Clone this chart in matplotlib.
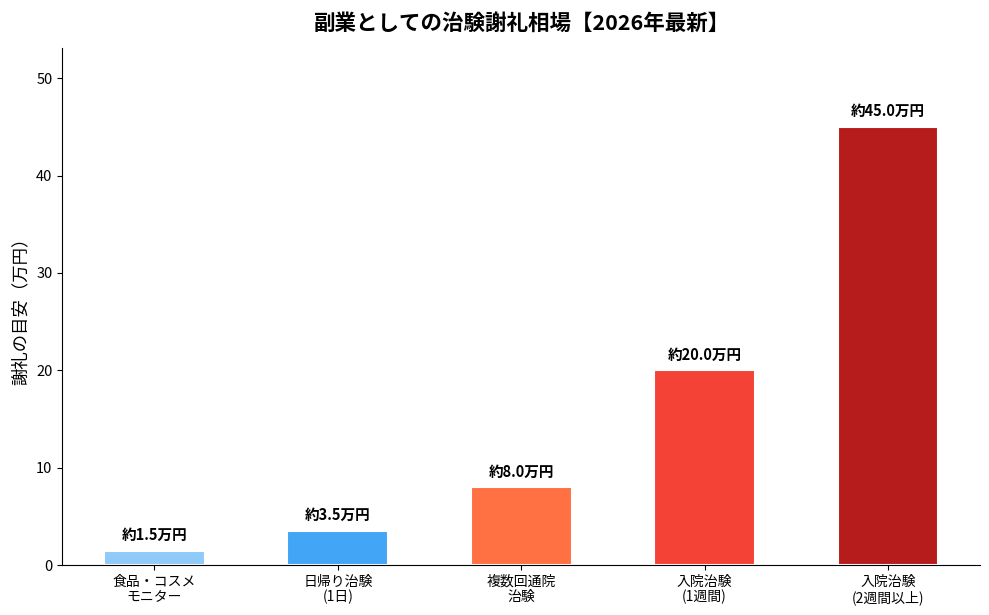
import matplotlib.pyplot as plt

plt.rcParams['font.family'] = ['Noto Sans CJK JP', 'DejaVu Sans']

# data
categories = ['食品・コスメ\nモニター', '日帰り治験\n(1日)', '複数回通院\n治験', '入院治験\n(1週間)', '入院治験\n(2週間以上)']
values = [1.5, 3.5, 8.0, 20.0, 45.0]
colors = ['#90CAF9', '#42A5F5', '#FF7043', '#F44336', '#B71C1C']

fig, ax = plt.subplots(figsize=(9.89, 6.15), dpi=100)
fig.subplots_adjust(left=0.063, right=0.991, top=0.922, bottom=0.081)

x = range(len(categories))
bars = ax.bar(x, values, width=0.55, color=colors, edgecolor='white', linewidth=1.5)

for b, v in zip(bars, values):
    ax.text(b.get_x() + b.get_width() / 2, v + 0.8, f'約{v:.1f}万円',
            ha='center', va='bottom', fontsize=10.5, fontweight='bold')

ax.set_xticks(list(x))
ax.set_xticklabels(categories, fontsize=10, linespacing=1.1)
ax.tick_params(axis='y', labelsize=10.5)
ax.set_ylim(0, max(values) * 1.18)
ax.set_ylabel('謝礼の目安（万円）', fontsize=12.5, labelpad=5)
ax.set_title('副業としての治験謝礼相場【2026年最新】', fontsize=15.5, fontweight='bold', pad=13)

ax.spines['top'].set_visible(False)
ax.spines['right'].set_visible(False)

fig.savefig('out.png', dpi=100)
